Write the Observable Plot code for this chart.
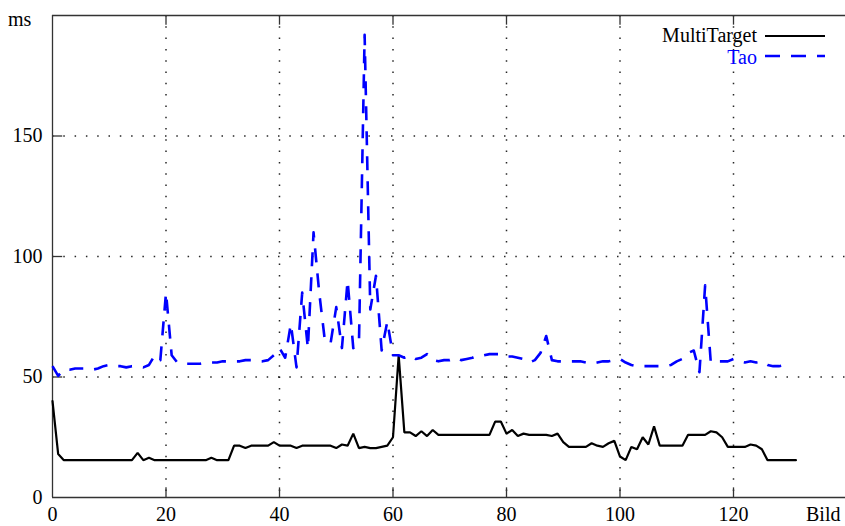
<!DOCTYPE html>
<html><head><meta charset="utf-8">
<script src="https://cdn.jsdelivr.net/npm/d3@7"></script>
<script src="https://cdn.jsdelivr.net/npm/@observablehq/plot@0.6"></script>
<style>
body{margin:0;background:#fff}
#wrap{position:relative;width:845px;height:526px;overflow:hidden}
#over{position:absolute;left:0;top:0;pointer-events:none}
svg text{font-family:'Liberation Serif','DejaVu Serif',serif}
</style></head>
<body><div id="wrap"></div>
<script>
// Frame numbers are the array index ("Bild")
const multiTarget = [
40, 18, 15.5, 15.5, 15.5, 15.5, 15.5, 15.5, 15.5, 15.5,
15.5, 15.5, 15.5, 15.5, 15.5, 18.5, 15.5, 16.5, 15.5, 15.5,
15.5, 15.5, 15.5, 15.5, 15.5, 15.5, 15.5, 15.5, 16.5, 15.5,
15.5, 15.5, 21.5, 21.5, 20.5, 21.5, 21.5, 21.5, 21.5, 23,
21.5, 21.5, 21.5, 20.5, 21.5, 21.5, 21.5, 21.5, 21.5, 21.5,
20.5, 22, 21.5, 26.5, 20.5, 21, 20.5, 20.5, 21, 21.5,
25, 59, 27, 27, 25.5, 27.5, 25.5, 28, 26, 26,
26, 26, 26, 26, 26, 26, 26, 26, 31.5, 31.5,
26.5, 28, 25.5, 26.5, 26, 26, 26, 26, 25.5, 26.5,
23, 21, 21, 21, 21, 22.5, 21.5, 21, 22.5, 23.5,
17, 15.5, 21, 20, 25, 22, 29.5, 21.5, 21.5, 21.5,
21.5, 21.5, 26, 26, 26, 26, 27.5, 27, 25, 21,
21, 21, 21, 22, 21.5, 20, 15.5, 15.5, 15.5, 15.5,
15.5, 15.5
];
const tao = [
54.5, 50.5, 53, 53, 53.5, 53.5, 53.5, 53, 53.5, 54.5,
55, 54.5, 54.5, 54, 54.5, 54.5, 54, 55, 59, 57,
85, 59, 56, 55.5, 55.5, 55.5, 55.5, 56, 56, 56,
56.5, 56.5, 56.5, 56.5, 57, 57, 56.5, 56.5, 57, 59,
62, 58, 72, 54, 85, 62, 110, 85, 65, 64,
79, 62, 90, 62, 64, 192, 78, 92, 61, 73,
59, 59, 58, 59, 57.5, 58, 59.5, 57, 56.5, 57,
57, 58, 57, 57.5, 58, 59, 59, 59.5, 59.5, 59.5,
58.5, 58.5, 58, 57.5, 56, 57, 60, 67, 57, 56.5,
56.5, 56.5, 56.5, 56.5, 56, 55.5, 56, 56.5, 56.5, 57,
57.5, 56, 55, 54.5, 54.5, 54.5, 54.5, 54.5, 54.5, 55,
56.5, 57.5, 60, 61, 52, 88, 56, 56.5, 56.5, 56.5,
57.5, 56.5, 56, 56.5, 56, 56.5, 55, 54.5, 54.5, 55,
56
];
const xTicks = [0, 20, 40, 60, 80, 100, 120];
const yTicks = [0, 50, 100, 150];
const seriesNames = ["MultiTarget", "Tao"];
const seriesColors = ["black", "blue"];
const yUnit = "ms";
const xUnit = "Bild";

const mtData = multiTarget.map((v, i) => ({x: i, y: v}));
const taoData = tao.map((v, i) => ({x: i, y: v}));
const font = "'Liberation Serif', 'DejaVu Serif', serif";
const fs = 20;

const chart = Plot.plot({
  width: 845, height: 526,
  marginLeft: 52, marginTop: 15, marginBottom: 29, marginRight: 0,
  x: {domain: [0, 140], range: [52, 846.5]},
  y: {domain: [0, 200], range: [497, 15]},
  style: {fontFamily: font, fontSize: fs + "px", color: "black", background: "white"},
  marks: [
    Plot.gridX(xTicks.filter(d => d > 0), {stroke: "black", strokeOpacity: 0.85, strokeWidth: 1.5, strokeDasharray: "1.5,9.8"}),
    Plot.gridY(yTicks.filter(d => d > 0), {stroke: "black", strokeOpacity: 0.85, strokeWidth: 1.5, strokeDasharray: "1.5,9.8"}),
    Plot.ruleY([0, 200], {stroke: "#333", strokeWidth: 1.3}),
    Plot.ruleX([0], {stroke: "#333", strokeWidth: 1.3}),
    Plot.ruleX(xTicks.filter(d => d > 0), {x: d => d, y1: 0, y2: 4, stroke: "#333", strokeWidth: 1.3}),
    Plot.ruleX(xTicks.filter(d => d > 0), {x: d => d, y1: 196, y2: 200, stroke: "#333", strokeWidth: 1.3}),
    Plot.ruleY(yTicks.filter(d => d > 0), {y: d => d, x1: 0, x2: 1.8, stroke: "#333", strokeWidth: 1.3}),
    Plot.axisX(xTicks, {tickSize: 0, tickPadding: 9, label: null, fontSize: fs, fontFamily: font}),
    Plot.axisY(yTicks, {tickSize: 0, tickPadding: 10, label: null, fontSize: fs, fontFamily: font}),
    Plot.line(mtData, {x: "x", y: "y", stroke: seriesColors[0], strokeWidth: 2.2, strokeLinejoin: "miter"}),
    Plot.line(taoData, {x: "x", y: "y", stroke: seriesColors[1], strokeWidth: 2.6, strokeDasharray: "14,11", strokeLinecap: "butt"})
  ]
});
const wrap = document.getElementById("wrap");
wrap.appendChild(chart);

// overlay: unit labels and legend
const ns = "http://www.w3.org/2000/svg";
const over = document.createElementNS(ns, "svg");
over.setAttribute("id", "over");
over.setAttribute("width", 845);
over.setAttribute("height", 526);
function txt(x, y, s, anchor, color) {
  const t = document.createElementNS(ns, "text");
  t.setAttribute("x", x); t.setAttribute("y", y);
  t.setAttribute("text-anchor", anchor);
  t.setAttribute("fill", color);
  t.setAttribute("font-size", fs);
  t.textContent = s;
  over.appendChild(t);
}
function ln(x1, x2, y, color, dash, w) {
  const l = document.createElementNS(ns, "line");
  l.setAttribute("x1", x1); l.setAttribute("x2", x2);
  l.setAttribute("y1", y); l.setAttribute("y2", y);
  l.setAttribute("stroke", color); l.setAttribute("stroke-width", w);
  if (dash) l.setAttribute("stroke-dasharray", dash);
  over.appendChild(l);
}
txt(8, 26, yUnit, "start", "black");
txt(806, 521, xUnit, "start", "black");
txt(757, 42, seriesNames[0], "end", seriesColors[0]);
ln(765, 825, 36, seriesColors[0], null, 2.2);
txt(757, 64, seriesNames[1], "end", seriesColors[1]);
ln(765, 825, 56, seriesColors[1], "15,11", 2.6);
wrap.appendChild(over);
</script>
</body></html>
